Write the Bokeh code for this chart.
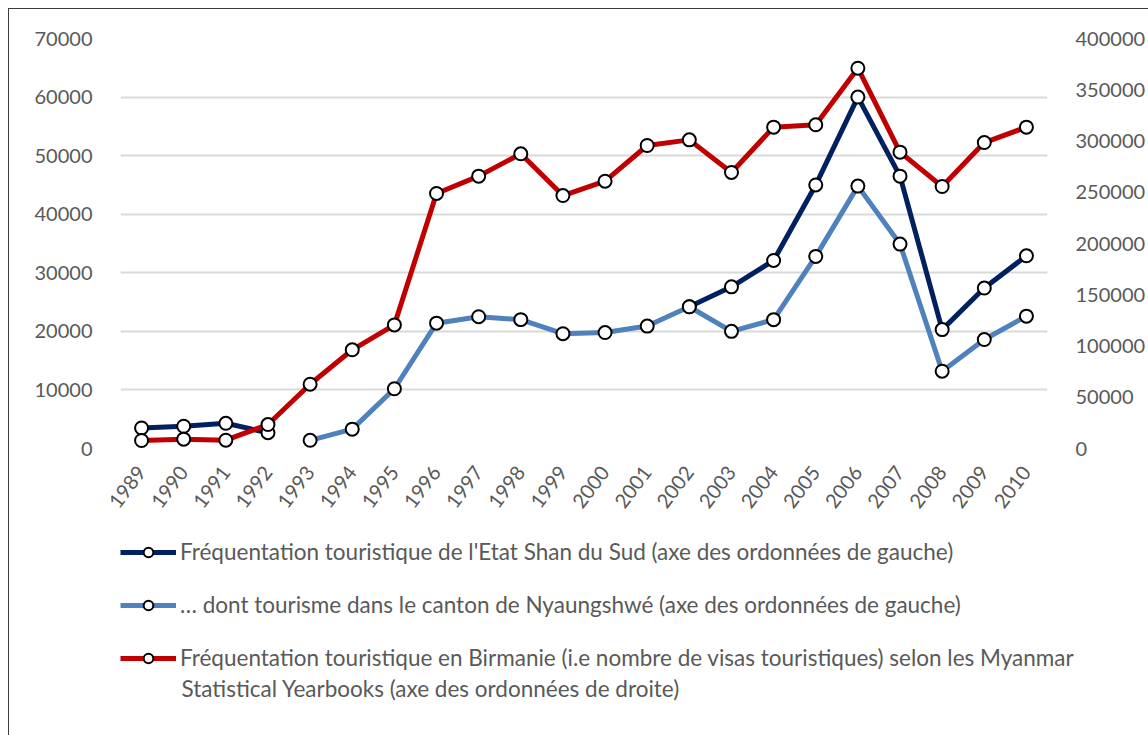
import math
from bokeh.plotting import figure
from bokeh.layouts import column
from bokeh.models import (FactorRange, Range1d, LinearAxis, FixedTicker, Legend, LegendItem,
                          NumeralTickFormatter, Label)
from bokeh.embed import file_html
from bokeh.resources import INLINE

years = [str(y) for y in range(1989, 2011)]
nan = float("nan")
shan_sud = [3500, 3800, 4300, 2700, nan, nan, nan, nan, nan, nan, nan, nan, nan,
            24200, 27600, 32100, 45000, 60000, 46500, 20300, 27400, 32900]
nyaungshwe = [nan, nan, nan, nan, 1400, 3300, 10200, 21400, 22500, 22000, 19600, 19800,
              20900, 24200, 20000, 22000, 32800, 44800, 34900, 13200, 18600, 22600]
birmanie = [7800, 9100, 8100, 23400, 62700, 96300, 120600, 248800, 265700, 287500, 246800,
            260800, 295600, 301100, 269300, 313500, 315800, 371000, 289100, 255600, 298500, 313500]

left_ticks = [0, 10000, 20000, 30000, 40000, 50000, 60000, 70000]
right_ticks = [0, 50000, 100000, 150000, 200000, 250000, 300000, 350000, 400000]

labels = [
    "Fréquentation touristique de l'Etat Shan du Sud (axe des ordonnées de gauche)",
    "… dont tourisme dans le canton de Nyaungshwé (axe des ordonnées de gauche)",
    "Fréquentation touristique en Birmanie (i.e nombre de visas touristiques) selon les Myanmar",
]
label3_line2 = "Statistical Yearbooks (axe des ordonnées de droite)"
colors = ["#002060", "#4F81BD", "#C00000"]

FONT = "Lato"
GREY = "#595959"
W = 1139

p = figure(x_range=FactorRange(*years), y_range=Range1d(0, 70000),
           width=W, height=521, output_backend="svg", toolbar_location=None,
           min_border_left=100, min_border_right=89, min_border_top=29, min_border_bottom=82)
p.extra_y_ranges = {"right": Range1d(0, 400000)}
p.outline_line_color = None

p.xgrid.grid_line_color = None
p.ygrid.grid_line_color = "#D9D9D9"
p.ygrid.grid_line_width = 2
p.ygrid.ticker = FixedTicker(ticks=left_ticks)

p.yaxis.ticker = FixedTicker(ticks=left_ticks)
p.yaxis.formatter = NumeralTickFormatter(format="0")
for ax in [p.yaxis[0], p.xaxis[0]]:
    ax.axis_line_color = None
    ax.major_tick_line_color = None
    ax.minor_tick_line_color = None
    ax.major_label_text_font = FONT
    ax.major_label_text_color = GREY
p.yaxis.major_label_text_font_size = "20px"
p.yaxis.major_label_standoff = 22
p.xaxis.major_label_text_font_size = "20px"
p.xaxis.major_label_orientation = 0.92
p.xaxis.major_label_standoff = 14

raxis = LinearAxis(y_range_name="right", ticker=FixedTicker(ticks=right_ticks),
                   formatter=NumeralTickFormatter(format="0"))
raxis.axis_line_color = None
raxis.major_tick_line_color = None
raxis.minor_tick_line_color = None
raxis.major_label_text_font = FONT
raxis.major_label_text_font_size = "20px"
raxis.major_label_text_color = GREY
raxis.major_label_standoff = 22
p.add_layout(raxis, "right")

for vals, col, rng in [(shan_sud, colors[0], "default"),
                       (nyaungshwe, colors[1], "default"),
                       (birmanie, colors[2], "right")]:
    p.line(years, vals, line_color=col, line_width=5, y_range_name=rng)
    p.scatter(years, vals, size=13, fill_color="white", line_color="black",
              line_width=2, y_range_name=rng)

# legend panel (separate figure below the chart); its renderers lie outside its ranges
LF_LEFT = 111
LF_TOP = 8
FW = W - LF_LEFT
FH = 205 - LF_TOP
lf = figure(frame_width=FW, frame_height=FH, x_range=(0, 1), y_range=(0, 1),
            x_axis_type=None, y_axis_type=None, output_backend="svg", toolbar_location=None,
            min_border_left=LF_LEFT, min_border_right=0, min_border_top=LF_TOP,
            min_border_bottom=0)
lf.outline_line_color = None
lf.grid.visible = False
items = []
for col, lab in zip(colors, labels):
    ln = lf.line([5, 6], [5, 6], line_color=col, line_width=5)
    sc = lf.scatter([5], [5], size=13, fill_color="white", line_color="black", line_width=2)
    items.append(LegendItem(label=lab, renderers=[ln, sc]))
legend = Legend(items=items, location="top_left", orientation="vertical",
                label_text_font=FONT, label_text_font_size="22.5px", label_text_color=GREY,
                glyph_width=56, glyph_height=24, label_height=24, label_standoff=4,
                spacing=26, padding=2, margin=0, border_line_color=None,
                background_fill_alpha=0)
lf.add_layout(legend)

lf.add_layout(Label(x=61 / FW, y=47 / FH, text=label3_line2,
                    text_font=FONT, text_font_size="22.5px", text_color=GREY,
                    text_baseline="middle", text_align="left"))

layout = column(p, lf, spacing=0,
                styles={"margin-left": "8px", "margin-top": "8px",
                        "border-left": "1px solid #3c3c3c", "border-top": "1px solid #3c3c3c"})

open("out.html", "w").write(file_html(layout, INLINE))
